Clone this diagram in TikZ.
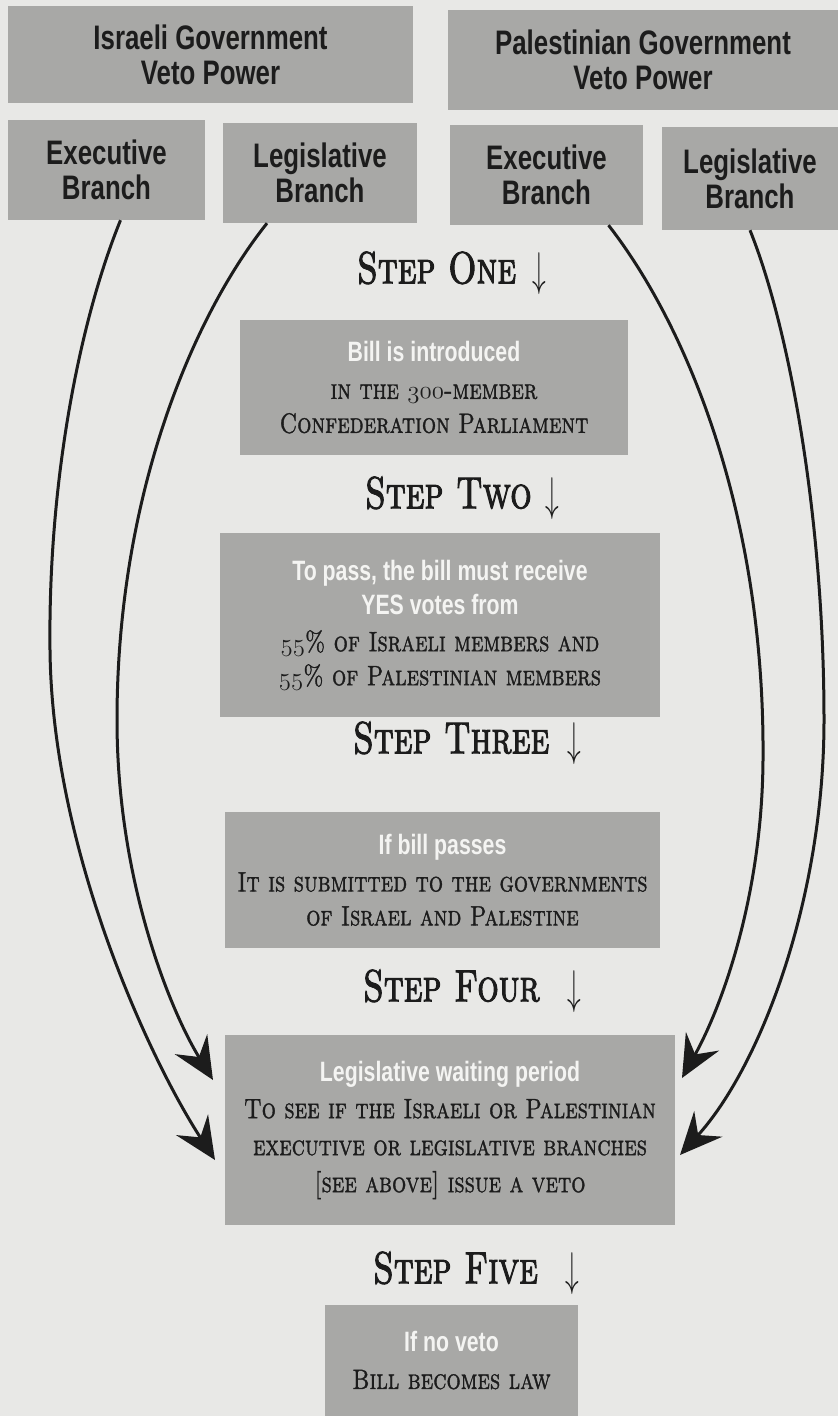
\documentclass[tikz,border=0pt]{standalone}
\usepackage{fontspec}
\newfontfamily\headfont[FakeStretch=0.76]{Liberation Sans}
\newfontfamily\capsfont[FakeStretch=0.8,FakeBold=1.2,
  SmallCapsFont={Latin Modern Roman Caps},
  SmallCapsFeatures={FakeStretch=0.8,FakeBold=1.2}]{Latin Modern Roman}
\newfontfamily\stepfont[FakeStretch=0.75,FakeBold=2.2,
  SmallCapsFont={Latin Modern Roman Caps},
  SmallCapsFeatures={FakeStretch=0.75,FakeBold=2.2}]{Latin Modern Roman}
\usetikzlibrary{arrows.meta}
\definecolor{pageGray}{RGB}{232,232,230}
\definecolor{boxGray}{RGB}{168,168,166}
\definecolor{inkDark}{RGB}{28,28,28}
\definecolor{paleWhite}{RGB}{244,244,242}
\newcommand{\osf}[1]{$\mathnormal{#1}$}
\newcommand{\whiteline}[1]{{\headfont\bfseries\color{paleWhite}\fontsize{28}{34}\selectfont #1}}
\newcommand{\stepdown}{\raisebox{-2pt}{\scalebox{1.1}[1.9]{$\downarrow$}}}

\begin{document}
\begin{tikzpicture}[x=1pt,y=-1pt,
  govbox/.style={fill=boxGray,inner sep=0pt,align=center,text=inkDark,
    font=\headfont\bfseries\fontsize{34}{35}\selectfont},
  stepbox/.style={fill=boxGray,inner sep=0pt,align=center,text=inkDark,
    font=\capsfont\fontsize{28}{37}\selectfont\scshape},
  steplabel/.style={inner sep=0pt,anchor=west,text=inkDark,
    font=\stepfont\fontsize{45}{45}\selectfont\scshape},
  veto/.style={line width=3pt,draw=inkDark,-{Stealth[length=42pt,width=38pt,inset=15pt]}}]
\useasboundingbox (0,0) rectangle (838,1416);
\fill[pageGray] (0,0) rectangle (838,1416);

% Governments
\node[govbox,minimum width=405,minimum height=97] (igov) at (210.5,54.5) {Israeli Government\\Veto Power};
\node[govbox,minimum width=390,minimum height=100] (pgov) at (643,60) {Palestinian Government\\Veto Power};

% Branches
\node[govbox,minimum width=197,minimum height=100] (iexec) at (106.5,170) {Executive\\Branch};
\node[govbox,minimum width=194,minimum height=100] (ileg) at (320,173) {Legislative\\Branch};
\node[govbox,minimum width=193,minimum height=100] (pexec) at (546.5,175) {Executive\\Branch};
\node[govbox,minimum width=176,minimum height=103] (pleg) at (750,178.5) {Legislative\\Branch};

% Steps
\node[steplabel] (l1) at (357,273) {Step One\hspace{16pt}\stepdown};
\node[stepbox,minimum width=388,minimum height=135] (intro) at (434,387.5)
  {\whiteline{Bill is introduced}\\in the \osf{300}-member\\[-3pt]Confederation Parliament};

\node[steplabel] (l2) at (365,498) {Step Two\hspace{14pt}\stepdown};
\node[stepbox,minimum width=440,minimum height=184] (vote) at (440,625)
  {\whiteline{To pass, the bill must receive}\\[-3pt]\whiteline{YES votes from}\\\osf{55}\% of Israeli members and\\[-3pt]\osf{55}\% of Palestinian members};

\node[steplabel] (l3) at (353,743) {Step Three\hspace{18pt}\stepdown};
\node[stepbox,minimum width=435,minimum height=136] (submit) at (442.5,880)
  {\whiteline{If bill passes}\\It is submitted to the governments\\[-3pt]of Israel and Palestine};

\node[steplabel] (l4) at (363,991) {Step Four\hspace{28pt}\stepdown};
\node[stepbox,minimum width=450,minimum height=190] (wait) at (450,1130)
  {\whiteline{Legislative waiting period}\\To see if the Israeli or Palestinian\\executive or legislative branches\\{[}see above{]} issue a veto};

\node[steplabel] (l5) at (373,1273) {Step Five\hspace{28pt}\stepdown};
\node[stepbox,minimum width=253,minimum height=111] (law) at (451.5,1360.5)
  {\whiteline{If no veto}\\Bill becomes law};

% Veto connections
\coordinate (iexecTip) at (215,1160);
\coordinate (ilegTip) at (213,1080);
\coordinate (pexecTip) at (682,1078);
\coordinate (plegTip) at (680,1155);
\draw[veto] ([xshift=14pt]iexec.south) .. controls (80,320) and (48,480) .. (50,650)
  .. controls (52,850) and (150,1060) .. (iexecTip);
\draw[veto] ([xshift=-53pt]ileg.south) .. controls (190,320) and (117,500) .. (117,720)
  .. controls (117,880) and (170,1010) .. (ilegTip);
\draw[veto] ([xshift=62pt]pexec.south) .. controls (690,330) and (765,520) .. (763,760)
  .. controls (762,900) and (720,1010) .. (pexecTip);
\draw[veto] (pleg.south) .. controls (790,330) and (824,520) .. (824,720)
  .. controls (824,900) and (760,1067) .. (plegTip);
\end{tikzpicture}
\end{document}
